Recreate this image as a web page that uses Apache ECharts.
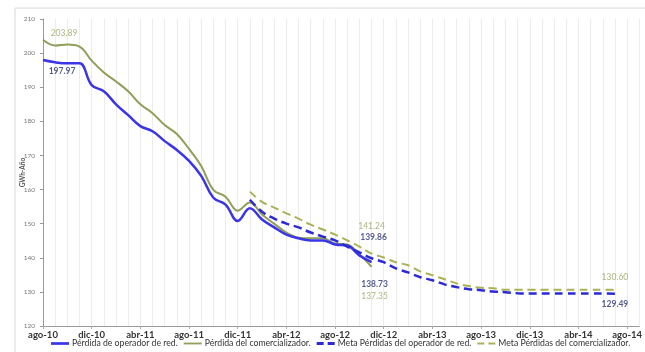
<!DOCTYPE html>
<html><head><meta charset="utf-8">
<script src="https://cdn.jsdelivr.net/npm/echarts@6/dist/echarts.min.js"></script>
<style>html,body{margin:0;padding:0;background:#fff}#c{width:645px;height:352px}</style>
</head><body><div id="c"></div>
<script>
const months = ["ago-10","sep-10","oct-10","nov-10","dic-10","ene-11","feb-11","mar-11","abr-11","may-11","jun-11","jul-11",
"ago-11","sep-11","oct-11","nov-11","dic-11","ene-12","feb-12","mar-12","abr-12","may-12","jun-12","jul-12",
"ago-12","sep-12","oct-12","nov-12","dic-12","ene-13","feb-13","mar-13","abr-13","may-13","jun-13","jul-13",
"ago-13","sep-13","oct-13","nov-13","dic-13","ene-14","feb-14","mar-14","abr-14","may-14","jun-14","jul-14",
"ago-14","sep-14"];
const yTicks = [120,130,140,150,160,170,180,190,200,210];

const operador = [197.97,197.3,197.0,197.0,190.6,188.8,185.0,181.8,178.6,177.1,174.2,171.6,
168.4,164.0,157.6,155.6,150.8,154.5,151.2,148.9,146.8,145.7,145.1,145.1,143.9,143.6,140.7,138.73];
const comercializador = [203.89,202.2,202.5,201.9,197.8,194.3,191.7,188.8,185.0,182.4,178.9,176.3,
171.9,166.9,159.9,157.9,153.8,156.2,152.7,150.0,147.4,145.9,145.7,145.7,144.2,143.9,141.0,137.35];
const metaOperador = [null,null,null,null,null,null,null,null,null,null,null,null,
null,null,null,null,null,157.0,153.5,151.5,150.0,148.9,147.4,146.2,145.1,143.3,141.6,139.86,
138.7,136.9,135.7,134.3,133.4,132.2,131.4,130.8,130.5,130.1,129.9,129.6,129.5,129.5,129.5,129.5,129.5,129.5,129.5,129.49];
const metaComercializador = [null,null,null,null,null,null,null,null,null,null,null,null,
null,null,null,null,null,159.4,156.4,154.7,153.0,151.5,149.7,148.3,146.8,145.1,143.3,141.24,
140.1,138.7,137.8,136.0,134.9,133.7,132.5,131.7,131.2,131.1,130.6,130.6,130.6,130.6,130.6,130.6,130.6,130.6,130.6,130.60];

const BLUE = '#3a35e8', GREEN = '#8f9e58', BLUED = '#2a2ad6', GREEND = '#aab258';
const NAVY = '#2b3474', OLIVE = '#9aa262';

function lbl(arr, i, txt, color, bold, off) {
  return { value: [months[i], arr[i]], label: { show: true, formatter: txt, color: color,
    fontWeight: bold ? 'bold' : 'normal', fontSize: 8.5, fontFamily: 'Lato', position: 'inside', offset: off } };
}
const lastOp = operador.length - 1, lastCo = comercializador.length - 1, lastM = metaOperador.length - 1;
const labelPts = [
  lbl(comercializador, 0, comercializador[0].toFixed(2), OLIVE, false, [21,-7]),
  lbl(operador, 0, operador[0].toFixed(2), NAVY, true, [19,11]),
  lbl(operador, lastOp, operador[lastOp].toFixed(2), NAVY, true, [3,22]),
  lbl(comercializador, lastCo, comercializador[lastCo].toFixed(2), OLIVE, false, [3,29]),
  lbl(metaComercializador, 27, metaComercializador[27].toFixed(2), OLIVE, false, [0,-27]),
  lbl(metaOperador, 27, metaOperador[27].toFixed(2), NAVY, true, [2,-21]),
  lbl(metaComercializador, lastM, metaComercializador[lastM].toFixed(2), OLIVE, false, [0,-13]),
  lbl(metaOperador, lastM, metaOperador[lastM].toFixed(2), NAVY, true, [0,11])
];

const chart = echarts.init(document.getElementById('c'));
chart.setOption({
  animation: false,
  backgroundColor: '#fff',
  grid: { left: 43, right: 5, top: 19, bottom: 26 },
  legend: {
    bottom: -1, left: 46, width: 600, itemWidth: 18, itemHeight: 7, itemGap: 6,
    textStyle: { fontSize: 8.7, color: '#333', fontFamily: 'Lato', padding: [0,0,0,-2] },
    data: [
      { name: 'Pérdida de operador de red.', icon: 'path://M0,0H20V3H0Z' },
      { name: 'Pérdida del comercializador.', icon: 'path://M0,0H20V2H0Z' },
      { name: 'Meta Pérdidas del operador de red.', icon: 'path://M0,0H7V3H0ZM11,0H18V3H11Z' },
      { name: 'Meta Pérdidas del comercializador.', icon: 'path://M0,0H7V2H0ZM11,0H18V2H11Z' }
    ]
  },
  xAxis: {
    type: 'category', data: months, boundaryGap: false,
    axisLine: { lineStyle: { color: '#999' } },
    axisTick: { show: true, interval: 3, length: 3, lineStyle: { color: '#aaa' } },
    axisLabel: { interval: 3, color: '#333', fontSize: 9.5, fontFamily: 'Lato', fontWeight: 'bold', margin: 4 },
    splitLine: { show: true, interval: 0, lineStyle: { color: '#ececec', width: 1 } }
  },
  yAxis: {
    type: 'value', min: yTicks[0], max: yTicks[yTicks.length-1], interval: 10,
    name: 'GWh-Año', nameLocation: 'middle', nameGap: 17, nameRotate: 90, nameMoveOverlap: false,
    nameTextStyle: { fontSize: 6.5, color: '#555', fontFamily: 'Lato', fontWeight: 'bold' },
    axisLine: { show: true, lineStyle: { color: '#999' } },
    axisTick: { show: true, length: 3, lineStyle: { color: '#999' } },
    axisLabel: { color: '#777', fontSize: 6.5, fontFamily: 'Lato', margin: 8 },
    splitLine: { show: false }
  },
  series: [
    { name: 'Pérdida de operador de red.', type: 'line', data: operador, smooth: 0.4, showSymbol: false,
      lineStyle: { color: BLUE, width: 2.5 }, itemStyle: { color: BLUE }, z: 4 },
    { name: 'Pérdida del comercializador.', type: 'line', data: comercializador, smooth: 0.4, showSymbol: false,
      lineStyle: { color: GREEN, width: 2 }, itemStyle: { color: GREEN }, z: 3 },
    { name: 'Meta Pérdidas del operador de red.', type: 'line', data: metaOperador, smooth: 0.4, showSymbol: false,
      lineStyle: { color: BLUED, width: 2.5, type: [8,5] }, itemStyle: { color: BLUED }, z: 5 },
    { name: 'Meta Pérdidas del comercializador.', type: 'line', data: metaComercializador, smooth: 0.4, showSymbol: false,
      lineStyle: { color: GREEND, width: 2, type: [8,5] }, itemStyle: { color: GREEND }, z: 2 },
    { name: 'labels', type: 'scatter', data: labelPts, symbolSize: 0, itemStyle: { color: 'rgba(0,0,0,0)' }, z: 10, silent: true }
  ],
  graphic: [
    { type: 'rect', shape: { x: 15, y: 8, width: 640, height: 360 }, style: { fill: 'none', stroke: '#d8d8d8', lineWidth: 1 }, silent: true }
  ]
});
</script>
</body></html>
